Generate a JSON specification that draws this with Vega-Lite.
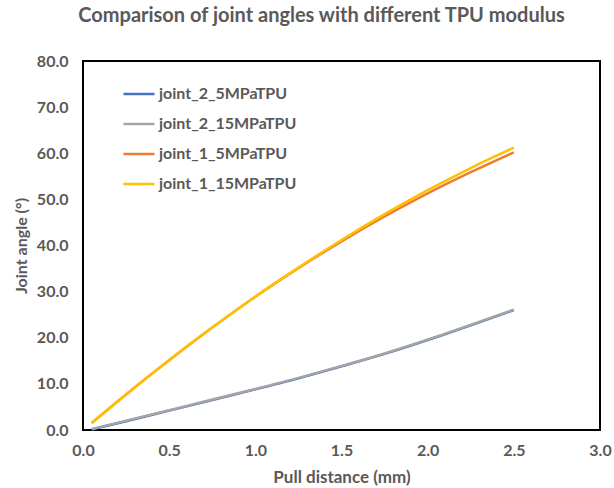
{
  "$schema": "https://vega.github.io/schema/vega-lite/v6.json",
  "autosize": {"type": "none"},
  "width": 517,
  "height": 369,
  "padding": {"left": 83, "top": 61, "right": 14, "bottom": 58},
  "background": "white",
  "config": {
    "font": "Lato",
    "view": {"stroke": "black", "strokeWidth": 2}
  },
  "title": {
    "text": "Comparison of joint angles with different TPU modulus",
    "fontSize": 20,
    "fontWeight": "bold",
    "color": "#595959",
    "font": "Lato",
    "anchor": "middle",
    "dx": -20,
    "offset": 27
  },
  "data": {
    "values": [
      {"series": "joint_2_5MPaTPU", "x": 0.05, "y": 0.1},
      {"series": "joint_2_5MPaTPU", "x": 0.25, "y": 1.9},
      {"series": "joint_2_5MPaTPU", "x": 0.5, "y": 4.2},
      {"series": "joint_2_5MPaTPU", "x": 0.75, "y": 6.5},
      {"series": "joint_2_5MPaTPU", "x": 1.0, "y": 8.8},
      {"series": "joint_2_5MPaTPU", "x": 1.25, "y": 11.2},
      {"series": "joint_2_5MPaTPU", "x": 1.5, "y": 13.8},
      {"series": "joint_2_5MPaTPU", "x": 1.75, "y": 16.5},
      {"series": "joint_2_5MPaTPU", "x": 2.0, "y": 19.5},
      {"series": "joint_2_5MPaTPU", "x": 2.25, "y": 22.7},
      {"series": "joint_2_5MPaTPU", "x": 2.5, "y": 26.0},
      {"series": "joint_2_15MPaTPU", "x": 0.05, "y": 0.2},
      {"series": "joint_2_15MPaTPU", "x": 0.25, "y": 2.0},
      {"series": "joint_2_15MPaTPU", "x": 0.5, "y": 4.3},
      {"series": "joint_2_15MPaTPU", "x": 0.75, "y": 6.6},
      {"series": "joint_2_15MPaTPU", "x": 1.0, "y": 8.9},
      {"series": "joint_2_15MPaTPU", "x": 1.25, "y": 11.3},
      {"series": "joint_2_15MPaTPU", "x": 1.5, "y": 13.9},
      {"series": "joint_2_15MPaTPU", "x": 1.75, "y": 16.6},
      {"series": "joint_2_15MPaTPU", "x": 2.0, "y": 19.6},
      {"series": "joint_2_15MPaTPU", "x": 2.25, "y": 22.8},
      {"series": "joint_2_15MPaTPU", "x": 2.5, "y": 26.1},
      {"series": "joint_1_5MPaTPU", "x": 0.05, "y": 1.5},
      {"series": "joint_1_5MPaTPU", "x": 0.25, "y": 7.7},
      {"series": "joint_1_5MPaTPU", "x": 0.5, "y": 15.1},
      {"series": "joint_1_5MPaTPU", "x": 0.75, "y": 22.2},
      {"series": "joint_1_5MPaTPU", "x": 1.0, "y": 28.9},
      {"series": "joint_1_5MPaTPU", "x": 1.25, "y": 35.1},
      {"series": "joint_1_5MPaTPU", "x": 1.5, "y": 40.9},
      {"series": "joint_1_5MPaTPU", "x": 1.75, "y": 46.3},
      {"series": "joint_1_5MPaTPU", "x": 2.0, "y": 51.3},
      {"series": "joint_1_5MPaTPU", "x": 2.25, "y": 55.9},
      {"series": "joint_1_5MPaTPU", "x": 2.5, "y": 60.2},
      {"series": "joint_1_15MPaTPU", "x": 0.05, "y": 1.5},
      {"series": "joint_1_15MPaTPU", "x": 0.25, "y": 7.7},
      {"series": "joint_1_15MPaTPU", "x": 0.5, "y": 15.2},
      {"series": "joint_1_15MPaTPU", "x": 0.75, "y": 22.2},
      {"series": "joint_1_15MPaTPU", "x": 1.0, "y": 28.9},
      {"series": "joint_1_15MPaTPU", "x": 1.25, "y": 35.2},
      {"series": "joint_1_15MPaTPU", "x": 1.5, "y": 41.2},
      {"series": "joint_1_15MPaTPU", "x": 1.75, "y": 46.8},
      {"series": "joint_1_15MPaTPU", "x": 2.0, "y": 52.0},
      {"series": "joint_1_15MPaTPU", "x": 2.25, "y": 56.8},
      {"series": "joint_1_15MPaTPU", "x": 2.5, "y": 61.2}
    ]
  },
  "mark": {"type": "line", "interpolate": "monotone", "strokeWidth": 2.5},
  "encoding": {
    "x": {
      "field": "x",
      "type": "quantitative",
      "scale": {"domain": [0, 3], "nice": false, "zero": false},
      "axis": {
        "title": "Pull distance (mm)",
        "values": [0, 0.5, 1, 1.5, 2, 2.5, 3],
        "format": ".1f",
        "grid": false,
        "ticks": false,
        "domain": false,
        "labelFont": "Lato",
        "labelFontSize": 16,
        "labelFontWeight": "bold",
        "labelColor": "#595959",
        "labelPadding": 12,
        "labelFlush": false,
        "titleFont": "Lato",
        "titleFontSize": 17,
        "titleFontWeight": "bold",
        "titleColor": "#595959",
        "titlePadding": 11
      }
    },
    "y": {
      "field": "y",
      "type": "quantitative",
      "scale": {"domain": [0, 80], "nice": false},
      "axis": {
        "title": "Joint angle (°)",
        "values": [0, 10, 20, 30, 40, 50, 60, 70, 80],
        "format": ".1f",
        "grid": false,
        "ticks": false,
        "domain": false,
        "labelFont": "Lato",
        "labelFontSize": 16,
        "labelFontWeight": "bold",
        "labelColor": "#595959",
        "labelPadding": 15,
        "labelFlush": false,
        "titleFont": "Lato",
        "titleFontSize": 16,
        "titleFontWeight": "bold",
        "titleColor": "#595959",
        "titlePadding": 7
      }
    },
    "color": {
      "field": "series",
      "type": "nominal",
      "scale": {
        "domain": ["joint_2_5MPaTPU", "joint_2_15MPaTPU", "joint_1_5MPaTPU", "joint_1_15MPaTPU"],
        "range": ["#4472C4", "#A5A5A5", "#ED7D31", "#FFC000"]
      },
      "legend": {
        "title": null,
        "orient": "none",
        "legendX": 39,
        "legendY": 16,
        "symbolType": "stroke",
        "symbolSize": 961,
        "symbolStrokeWidth": 2.5,
        "labelFont": "Lato",
        "labelFontSize": 16,
        "labelFontWeight": "bold",
        "labelColor": "#595959",
        "labelOffset": 3,
        "rowPadding": 5,
        "labelLimit": 300
      }
    }
  }
}
